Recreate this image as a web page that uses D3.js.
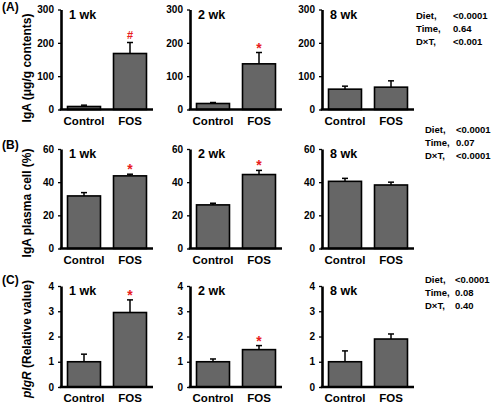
<!DOCTYPE html>
<html><head><meta charset="utf-8">
<script src="https://cdn.jsdelivr.net/npm/d3@7"></script>
<style>body{margin:0;background:#fff}svg{display:block}text{font-family:"Liberation Sans",Arial,sans-serif}</style>
</head><body><svg id="c" width="500" height="404"></svg>
<script>
// ---- data ----
const panelLabels = ["(A)", "(B)", "(C)"];
const weeks = ["1 wk", "2 wk", "8 wk"];
const categories = ["Control", "FOS"];
// IgA (µg/g contents)
const igaMean = [[9, 168], [18, 137], [61, 67]];
const igaErr  = [[4, 33], [3, 34], [9, 19]];
const igaSig  = [["", "#"], ["", "*"], ["", ""]];
const igaTicks = [0, 100, 200, 300];
// IgA plasma cell (%)
const plasmaMean = [[31.7, 43.8], [26.3, 44.6], [40.5, 38.3]];
const plasmaErr  = [[2.0, 1.0], [1.0, 2.5], [1.8, 1.7]];
const plasmaSig  = [["", "*"], ["", "*"], ["", ""]];
const plasmaTicks = [0, 20, 40, 60];
// pIgR (relative value)
const pigrMean = [[1.0, 2.95], [1.0, 1.48], [1.0, 1.9]];
const pigrErr  = [[0.3, 0.5], [0.11, 0.16], [0.43, 0.2]];
const pigrSig  = [["", "*"], ["", "*"], ["", ""]];
const pigrTicks = [0, 1, 2, 3, 4];
// ANOVA statistics
const statNames = ["Diet,", "Time,", "D\u00d7T,"];
const igaStats = ["<0.0001", "0.64", "<0.001"];
const plasmaStats = ["<0.0001", "0.07", "<0.0001"];
const pigrStats = ["<0.0001", "0.08", "0.40"];

const rows = [
  {mean: igaMean, err: igaErr, sig: igaSig, ticks: igaTicks, stats: igaStats},
  {mean: plasmaMean, err: plasmaErr, sig: plasmaSig, ticks: plasmaTicks, stats: plasmaStats},
  {mean: pigrMean, err: pigrErr, sig: pigrSig, ticks: pigrTicks, stats: pigrStats}
];

// ---- layout ----
const colX = [61, 190, 322];
const axisW = 92;
const rowGeom = [{base: 109.5, top: 9.5}, {base: 248.5, top: 149}, {base: 387, top: 286}];
const titleY = [68, 203, 339];
const statGeom = [{y: 15, nx: 416, vx: 453}, {y: 129, nx: 425, vx: 456}, {y: 279, nx: 425, vx: 455}];
const panelLabelY = [11, 149, 284];

const svg = d3.select("#c");

rows.forEach((row, r) => {
  const g0 = rowGeom[r];
  const y = d3.scaleLinear().domain([0, d3.max(row.ticks)]).range([g0.base, g0.top]);
  weeks.forEach((wk, c) => {
    const x0 = colX[c];
    const x = d3.scaleBand().domain(categories).range([x0, x0 + axisW]).paddingInner(0.283).paddingOuter(0.1415);
    const g = svg.append("g");
    const data = categories.map((cat, i) => ({cat, v: row.mean[c][i], e: row.err[c][i], s: row.sig[c][i]}));
    // bars
    g.selectAll("rect.bar").data(data).join("rect")
      .attr("x", d => x(d.cat)).attr("width", x.bandwidth())
      .attr("y", d => y(d.v)).attr("height", d => y(0) - y(d.v))
      .attr("fill", "#666").attr("stroke", "#000").attr("stroke-width", 1.6);
    // error bars (upper only)
    g.selectAll("line.eb").data(data).join("line")
      .attr("x1", d => x(d.cat) + x.bandwidth() / 2).attr("x2", d => x(d.cat) + x.bandwidth() / 2)
      .attr("y1", d => y(d.v)).attr("y2", d => y(d.v + d.e))
      .attr("stroke", "#000").attr("stroke-width", 1.5);
    g.selectAll("line.cap").data(data).join("line")
      .attr("x1", d => x(d.cat) + x.bandwidth() / 2 - 3).attr("x2", d => x(d.cat) + x.bandwidth() / 2 + 3)
      .attr("y1", d => y(d.v + d.e)).attr("y2", d => y(d.v + d.e))
      .attr("stroke", "#000").attr("stroke-width", 1.5);
    // significance marks
    g.selectAll("text.sig").data(data.filter(d => d.s)).join("text")
      .attr("x", d => x(d.cat) + x.bandwidth() / 2)
      .attr("y", d => y(d.v + d.e) - 4 + (d.s === "*" ? 4 : 0))
      .attr("text-anchor", "middle").attr("fill", "#e8201c")
      .attr("font-weight", "bold").attr("font-size", d => d.s === "*" ? 14 : 11)
      .text(d => d.s);
    // y axis
    const ya = g.append("g").attr("transform", `translate(${x0},0)`)
      .call(d3.axisLeft(y).tickValues(row.ticks).tickSize(3).tickSizeOuter(0).tickPadding(4).tickFormat(d3.format("d")));
    ya.select(".domain").attr("stroke-width", 2.6);
    ya.selectAll(".tick line").attr("stroke-width", 1.3);
    ya.selectAll("text").attr("font-size", 10).attr("font-weight", "bold").attr("fill", "#000");
    // x axis
    const xa = g.append("g").attr("transform", `translate(0,${g0.base})`)
      .call(d3.axisBottom(x).tickSize(0).tickPadding(7));
    xa.select(".domain").attr("d", `M${x0 - 1.3},0H${x0 + axisW}`).attr("stroke-width", 2.6);
    xa.selectAll("text").attr("font-size", 11.5).attr("font-weight", "bold").attr("fill", "#000");
    // week label
    g.append("text").attr("x", x0 + 8).attr("y", g0.top + 9)
      .attr("font-size", 12.5).attr("font-weight", "bold").text(wk);
  });
  // stats
  const sg = statGeom[r];
  statNames.forEach((n, i) => {
    svg.append("text").attr("x", sg.nx).attr("y", sg.y + 13 * i + 3.5)
      .attr("font-size", 9.5).attr("font-weight", "bold").text(n);
    svg.append("text").attr("x", sg.vx).attr("y", sg.y + 13 * i + 3.5)
      .attr("font-size", 9.5).attr("font-weight", "bold").text(row.stats[i]);
  });
  // panel label
  svg.append("text").attr("x", 2).attr("y", panelLabelY[r]).attr("font-size", 12).attr("font-weight", "bold").text(panelLabels[r]);
});

// y titles
const t0 = svg.append("text").attr("transform", `translate(31,${titleY[0]}) rotate(-90)`)
  .attr("text-anchor", "middle").attr("font-size", 12).attr("font-weight", "bold").text("IgA (\u03bcg/g contents)");
svg.append("text").attr("transform", `translate(31,${titleY[1]}) rotate(-90)`)
  .attr("text-anchor", "middle").attr("font-size", 12).attr("font-weight", "bold").text("IgA plasma cell (%)");
const t2 = svg.append("text").attr("transform", `translate(31,${titleY[2]}) rotate(-90)`)
  .attr("text-anchor", "middle").attr("font-size", 12).attr("font-weight", "bold");
t2.append("tspan").attr("font-style", "italic").text("pIgR");
t2.append("tspan").text(" (Relative value)");
</script></body></html>
